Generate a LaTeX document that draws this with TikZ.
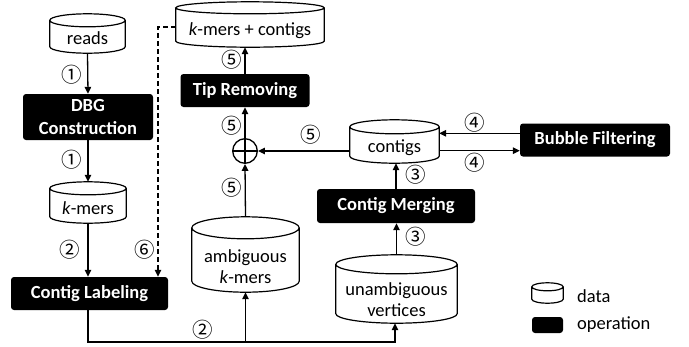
\documentclass[tikz,border=0pt]{standalone}
\usepackage{fontspec}
\setmainfont{Carlito}
\newfontfamily\cjk{Noto Sans CJK SC}
\usetikzlibrary{arrows.meta,calc}
\newcommand\cl[2]{\raisebox{-#1}[\height][\depth]{\begin{tabular}{@{}c@{}}#2\end{tabular}}}
\newcommand\cylout[2]{%
  \draw[cylline] let \p1=($(#1.east)-(#1.west)$) in
    ([yshift=-#2pt]#1.north west) -- ([yshift=#2pt]#1.south west)
    arc[start angle=180, end angle=360, x radius={0.5*\x1}, y radius=#2pt]
    -- ([yshift=-#2pt]#1.north east)
    arc[start angle=0, end angle=360, x radius={0.5*\x1}, y radius=#2pt];}
\begin{document}
\begin{tikzpicture}[x=1pt,y=-1pt,
  every node/.style={font=\fontsize{18.5}{21.5}\selectfont},
  cylnode/.style={rectangle, inner sep=0pt},
  cylline/.style={line width=1.2pt},
  opbox/.style={rectangle, rounded corners=3pt, fill=black, text=white, inner sep=0pt, align=center, font=\fontsize{18.5}{23}\selectfont\bfseries},
  num/.style={font=\cjk\fontsize{20.5}{20.5}\selectfont, inner sep=0pt},
  arr/.style={line width=1.3pt, -{Triangle[length=7pt,width=6.5pt]}},
  ln/.style={line width=1.3pt}
]
\useasboundingbox (0,0) rectangle (689,346);
% data
\node[cylnode, minimum width=75pt, minimum height=39pt] (reads) at (87.5,33.5) {\cl{7pt}{reads}};
\node[cylnode, minimum width=76pt, minimum height=41pt] (kmers) at (88,202.5) {\cl{8pt}{\textit{k}-mers}};
\node[cylnode, minimum width=148pt, minimum height=45pt] (kc) at (250,24.5) {\cl{7pt}{\textit{k}-mers + contigs}};
\node[cylnode, minimum width=107pt, minimum height=75pt] (amb) at (245.5,254.5) {\cl{14pt}{ambiguous\\\textit{k}-mers}};
\node[cylnode, minimum width=89pt, minimum height=43pt] (contigs) at (394.5,141.5) {\cl{7pt}{contigs}};
\node[cylnode, minimum width=121pt, minimum height=68pt] (unamb) at (396.5,289) {\cl{12.5pt}{unambiguous\\vertices}};
\node[cylnode, minimum width=31pt, minimum height=20pt] (lcyl) at (547.5,293) {};
\cylout{reads}{6.5}
\cylout{kmers}{6.5}
\cylout{kc}{6}
\cylout{amb}{11}
\cylout{contigs}{7}
\cylout{unamb}{9.5}
\cylout{lcyl}{4}
% operations
\node[opbox, minimum width=130pt, minimum height=46pt] (dbg) at (88,117) {DBG\\Construction};
\node[opbox, minimum width=157pt, minimum height=33pt] (lab) at (89.5,293.5) {Contig Labeling};
\node[opbox, minimum width=129pt, minimum height=33pt] (tip) at (245,90.5) {Tip Removing};
\node[opbox, minimum width=150pt, minimum height=33pt] (bub) at (595,140) {Bubble Filtering};
\node[opbox, minimum width=158pt, minimum height=34pt] (merge) at (396,206) {Contig Merging};
\node[circle, draw, line width=1.3pt, minimum size=24.6pt, inner sep=0pt] (plus) at (245,151) {};
\draw[ln] (plus.north) -- (plus.south) (plus.west) -- (plus.east);
% legend
\node[opbox, minimum width=31pt, minimum height=16pt] (lop) at (547.5,325) {};
\node[anchor=west, inner sep=0pt] (ldata) at (577,296) {data};
\node[anchor=west, inner sep=0pt] (lopt) at (577,325) {operation};
% connectors
\coordinate (bend) at (395,342);
\draw[arr] (reads.south) -- (dbg.north);
\draw[arr] (dbg.south) -- (kmers.north);
\draw[arr] (kmers.south) -- (kmers.south |- lab.north);
\draw[arr] (kmers.south |- lab.south) |- (bend) -- (bend |- unamb.south);
\draw[arr] (amb.south |- bend) -- (amb.south);
\draw[arr] (amb.north) -- (plus.south);
\draw[arr] (plus.north) -- (tip.south);
\draw[arr] (tip.north) -- (tip.north |- kc.south);
\draw[arr] (plus -| contigs.west) -- (plus.east);
\draw[arr] ([yshift=6.7pt]bub.west) -- ([yshift=6.7pt]bub.west -| contigs.east);
\draw[arr] ([yshift=-10.7pt]bub.west -| contigs.east) -- ([yshift=-10.7pt]bub.west);
\draw[arr] (merge.north) -- (merge.north |- contigs.south);
\draw[arr] (unamb.north) -- (unamb.north |- merge.south);
\draw[arr, dash pattern=on 5pt off 3pt] ([yshift=-2.5pt]kc.west) -| ([xshift=68.5pt]lab.north);
% step numbers
\node[num] (n1a) at (72,75) {①};
\node[num] (n1b) at (72,160) {①};
\node[num] (n2a) at (70,250) {②};
\node[num] (n2b) at (203,330) {②};
\node[num] (n6) at (145,250) {⑥};
\node[num] (n5a) at (231.7,60) {⑤};
\node[num] (n5b) at (231.7,126) {⑤};
\node[num] (n5c) at (231.7,188) {⑤};
\node[num] (n5d) at (311,135) {⑤};
\node[num] (n4a) at (475,122.7) {④};
\node[num] (n4b) at (475,162.7) {④};
\node[num] (n3a) at (416,175) {③};
\node[num] (n3b) at (416,237) {③};
\end{tikzpicture}
\end{document}
